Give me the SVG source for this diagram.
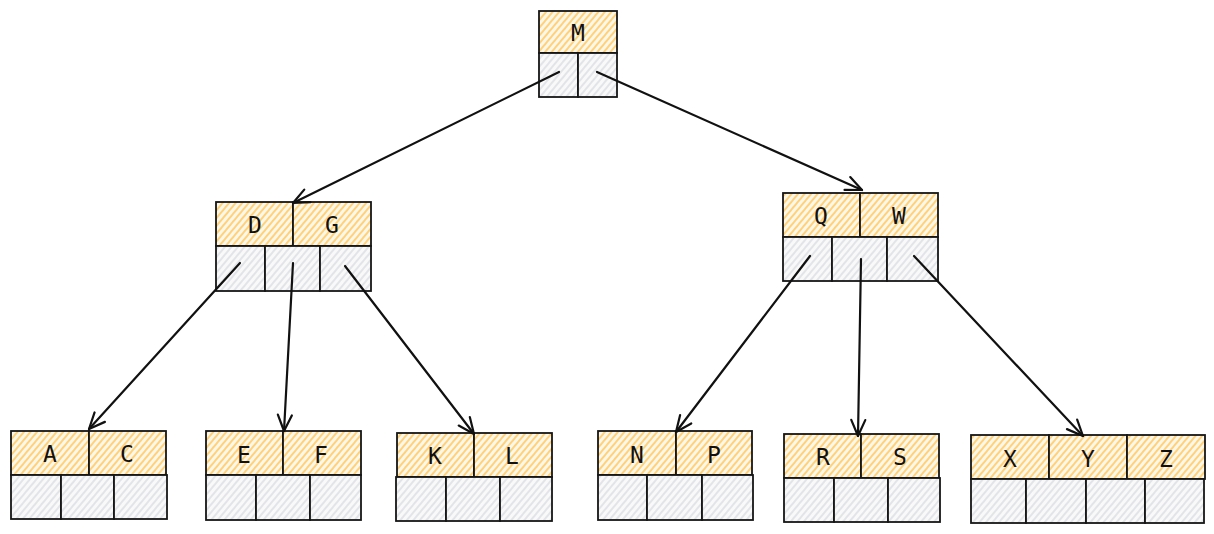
<svg xmlns="http://www.w3.org/2000/svg" width="1214" height="534" viewBox="0 0 1214 534">
<defs>
<pattern id="hy" width="5" height="5" patternUnits="userSpaceOnUse" patternTransform="rotate(40)">
<rect width="5" height="5" fill="#fff8ea"/>
<line x1="1" y1="0" x2="1" y2="5" stroke="#ffc552" stroke-width="1.5"/>
</pattern>
<pattern id="hg" width="5" height="5" patternUnits="userSpaceOnUse" patternTransform="rotate(40)">
<rect width="5" height="5" fill="#f9f9fa"/>
<line x1="1" y1="0" x2="1" y2="5" stroke="#d6d9dd" stroke-width="1.3"/>
</pattern>
<marker id="ah" viewBox="0 0 20 20" refX="18" refY="10" markerWidth="20" markerHeight="20" markerUnits="userSpaceOnUse" orient="auto">
<path d="M2 3 L18 10 L2 17" fill="none" stroke="#111111" stroke-width="2.2" stroke-linecap="round" stroke-linejoin="round"/>
</marker>
</defs>
<style>
.k{fill:url(#hy);stroke:#161616;stroke-width:1.8}
.c{fill:url(#hg);stroke:#161616;stroke-width:1.8}
text{font-family:"DejaVu Sans Mono","Liberation Mono",monospace;font-size:23px;fill:#111111;text-anchor:middle;dominant-baseline:central}
.e{fill:none;stroke:#111111;stroke-width:2.2;stroke-linecap:round;marker-end:url(#ah)}
</style>
<rect width="1214" height="534" fill="#ffffff"/>
<g id="node-M">
<rect class="k" x="539" y="11" width="78" height="42"/>
<rect class="c" x="539" y="53" width="39" height="44"/>
<rect class="c" x="578" y="53" width="39" height="44"/>
<text x="578" y="33">M</text>
</g>
<g id="node-DG">
<rect class="k" x="216" y="202" width="77" height="44"/>
<rect class="k" x="293" y="202" width="78" height="44"/>
<rect class="c" x="216" y="246" width="49" height="45"/>
<rect class="c" x="265" y="246" width="55" height="45"/>
<rect class="c" x="320" y="246" width="51" height="45"/>
<text x="255" y="225">D</text>
<text x="332" y="225">G</text>
</g>
<g id="node-QW">
<rect class="k" x="783" y="193" width="77" height="44"/>
<rect class="k" x="860" y="193" width="78" height="44"/>
<rect class="c" x="783" y="237" width="49" height="44"/>
<rect class="c" x="832" y="237" width="55" height="44"/>
<rect class="c" x="887" y="237" width="51" height="44"/>
<text x="821" y="216">Q</text>
<text x="899" y="216">W</text>
</g>
<g id="node-AC">
<rect class="k" x="11" y="431" width="78" height="44"/>
<rect class="k" x="89" y="431" width="77" height="44"/>
<rect class="c" x="11" y="475" width="50" height="44"/>
<rect class="c" x="61" y="475" width="53" height="44"/>
<rect class="c" x="114" y="475" width="53" height="44"/>
<text x="50" y="454">A</text>
<text x="127" y="454">C</text>
</g>
<g id="node-EF">
<rect class="k" x="206" y="431" width="77" height="44"/>
<rect class="k" x="283" y="431" width="78" height="44"/>
<rect class="c" x="206" y="475" width="50" height="45"/>
<rect class="c" x="256" y="475" width="54" height="45"/>
<rect class="c" x="310" y="475" width="51" height="45"/>
<text x="244" y="455">E</text>
<text x="321" y="455">F</text>
</g>
<g id="node-KL">
<rect class="k" x="397" y="433" width="77" height="44"/>
<rect class="k" x="474" y="433" width="78" height="44"/>
<rect class="c" x="396" y="477" width="50" height="44"/>
<rect class="c" x="446" y="477" width="54" height="44"/>
<rect class="c" x="500" y="477" width="52" height="44"/>
<text x="435" y="456">K</text>
<text x="512" y="456">L</text>
</g>
<g id="node-NP">
<rect class="k" x="598" y="431" width="78" height="44"/>
<rect class="k" x="676" y="431" width="76" height="44"/>
<rect class="c" x="598" y="475" width="49" height="45"/>
<rect class="c" x="647" y="475" width="55" height="45"/>
<rect class="c" x="702" y="475" width="51" height="45"/>
<text x="637" y="455">N</text>
<text x="714" y="455">P</text>
</g>
<g id="node-RS">
<rect class="k" x="784" y="434" width="77" height="44"/>
<rect class="k" x="861" y="434" width="78" height="44"/>
<rect class="c" x="784" y="478" width="50" height="44"/>
<rect class="c" x="834" y="478" width="54" height="44"/>
<rect class="c" x="888" y="478" width="52" height="44"/>
<text x="823" y="457">R</text>
<text x="900" y="457">S</text>
</g>
<g id="node-XYZ">
<rect class="k" x="971" y="435" width="78" height="44"/>
<rect class="k" x="1049" y="435" width="78" height="44"/>
<rect class="k" x="1127" y="435" width="78" height="44"/>
<rect class="c" x="971" y="479" width="55" height="44"/>
<rect class="c" x="1026" y="479" width="60" height="44"/>
<rect class="c" x="1086" y="479" width="59" height="44"/>
<rect class="c" x="1145" y="479" width="59" height="44"/>
<text x="1010" y="459">X</text>
<text x="1088" y="459">Y</text>
<text x="1166" y="459">Z</text>
</g>
<g id="connectors">
<line class="e" x1="559" y1="72" x2="293" y2="203"/>
<line class="e" x1="597" y1="72" x2="862" y2="190"/>
<line class="e" x1="240" y1="263" x2="89" y2="429"/>
<line class="e" x1="293" y1="263" x2="284" y2="431"/>
<line class="e" x1="345" y1="266" x2="474" y2="434"/>
<line class="e" x1="810" y1="256" x2="676" y2="432"/>
<line class="e" x1="861" y1="259" x2="858" y2="436"/>
<line class="e" x1="914" y1="256" x2="1083" y2="436"/>
</g>
</svg>
